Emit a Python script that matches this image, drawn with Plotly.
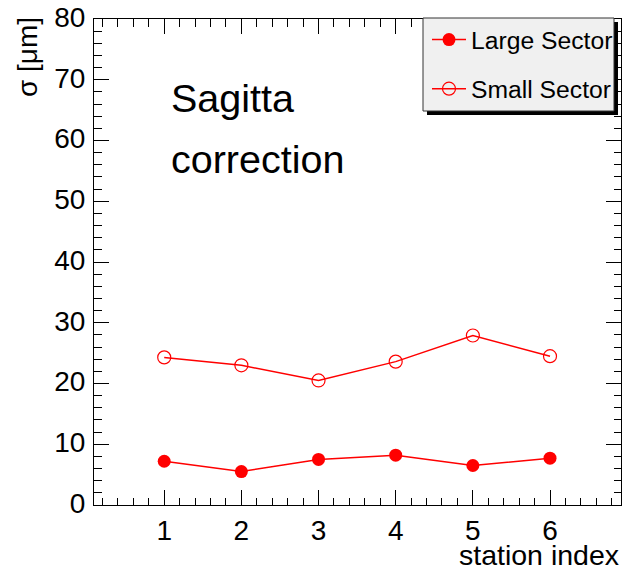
import plotly.graph_objects as go

stations = [1, 2, 3, 4, 5, 6]
large_sector = [7.2, 5.5, 7.5, 8.2, 6.5, 7.7]
small_sector = [24.3, 23.0, 20.5, 23.6, 27.9, 24.5]

FONT = "Liberation Sans, Arial, Helvetica, sans-serif"
OFF = 8  # default page body margin in the browser
W, H = 631 - OFF, 568 - OFF
# target plot frame in page pixels: x 94..621, y 19..505
ML, MR, MT, MB = 94 - OFF, 631 - 621, 19 - OFF, 568 - 505
PW, PH = W - ML - MR, H - MT - MB

def px_x(p):
    return (p - OFF - ML) / PW

def px_y(p):
    return (H - MB - (p - OFF)) / PH

fig = go.Figure()
fig.add_trace(go.Scatter(
    x=stations, y=large_sector, mode="lines+markers", name="Large Sector",
    legendgroup="a",
    line=dict(color="#ff0000", width=1.5),
    marker=dict(symbol="circle", size=13, color="#ff0000"),
))
fig.add_trace(go.Scatter(
    x=stations, y=small_sector, mode="lines+markers", name="Small Sector",
    legendgroup="b",
    line=dict(color="#ff0000", width=1.5),
    marker=dict(symbol="circle-open", size=13, color="#ff0000", line=dict(width=1.2)),
))

axis_common = dict(
    showline=True, linecolor="black", linewidth=1, mirror="ticks",
    ticks="inside", ticklen=15, tickcolor="black", tickwidth=1,
    showgrid=False, zeroline=False, automargin=False,
    ticklabeloverflow="allow",
    tickfont=dict(family=FONT, size=28, color="black"),
)

fig.update_xaxes(
    range=[0.09, 6.92], tickmode="linear", tick0=0, dtick=1,
    minor=dict(ticks="inside", ticklen=7.5, dtick=0.2, tick0=0, tickcolor="black", showgrid=False),
    **axis_common,
)
fig.update_yaxes(
    range=[0, 80], tickmode="linear", tick0=0, dtick=10,
    ticklabelshift=-2, ticklabelstandoff=2,
    minor=dict(ticks="inside", ticklen=7.5, dtick=2, tick0=0, tickcolor="black", showgrid=False),
    **axis_common,
)

# legend shadow and box
fig.add_shape(type="rect", xref="paper", yref="paper",
              x0=px_x(427), x1=px_x(618), y0=px_y(115), y1=px_y(22),
              fillcolor="black", line=dict(width=0), layer="above")
fig.add_shape(type="rect", xref="paper", yref="paper",
              x0=px_x(423), x1=px_x(614), y0=px_y(111), y1=px_y(18),
              fillcolor="#f0f0f0", line=dict(width=1, color="#333333"), layer="above")

fig.update_layout(
    width=W, height=H,
    margin=dict(l=ML, r=MR, t=MT, b=MB, autoexpand=False),
    paper_bgcolor="white", plot_bgcolor="white",
    showlegend=True,
    legend=dict(
        x=px_x(427), y=px_y(17), xanchor="left", yanchor="top",
        bgcolor="rgba(0,0,0,0)", borderwidth=0,
        font=dict(family=FONT, size=24.7, color="black"),
        tracegroupgap=14, itemwidth=34,
    ),
    annotations=[
        dict(text="Sagitta", xref="paper", yref="paper", x=px_x(169), y=px_y(122),
             xanchor="left", yanchor="bottom", showarrow=False,
             font=dict(family=FONT, size=39.5, color="black")),
        dict(text="correction", xref="paper", yref="paper", x=px_x(169), y=px_y(183),
             xanchor="left", yanchor="bottom", showarrow=False,
             font=dict(family=FONT, size=39.5, color="black")),
        dict(text="station index", xref="paper", yref="paper", x=px_x(621), y=px_y(573),
             xanchor="right", yanchor="bottom", showarrow=False,
             font=dict(family=FONT, size=28.5, color="black")),
        dict(text="σ [μm]", xref="paper", yref="paper", x=px_x(27), y=px_y(15),
             xanchor="center", yanchor="top", showarrow=False, textangle=-90,
             font=dict(family=FONT, size=28, color="black")),
    ],
)

fig.write_html("out.html")
